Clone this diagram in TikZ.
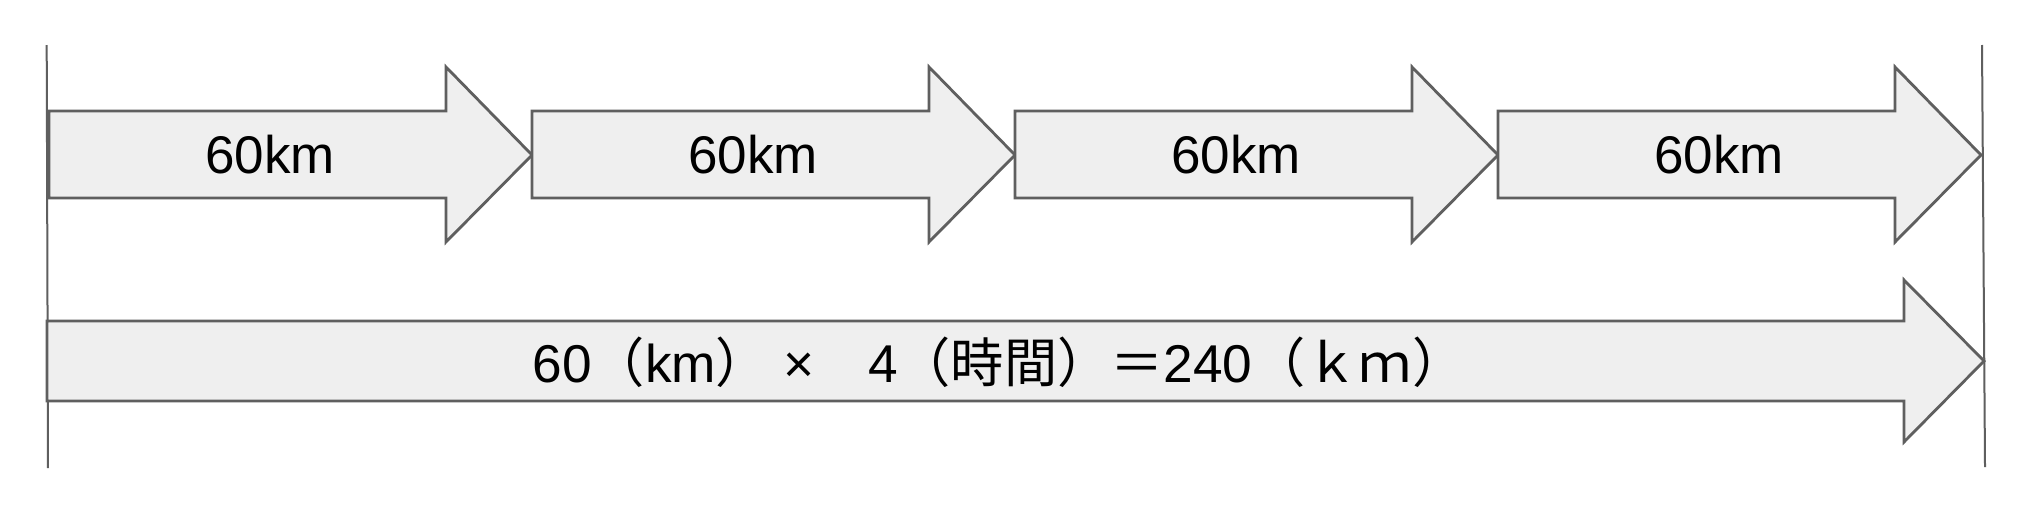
\documentclass[tikz,border=0pt]{standalone}
\usepackage{fontspec}
\setmainfont{Liberation Sans}
\newfontfamily\cjk{Noto Sans CJK JP}
\definecolor{edge}{HTML}{5F5F5F}
\definecolor{boxfill}{HTML}{EFEFEF}
\begin{document}
\begin{tikzpicture}[x=0.5pt,y=-0.5pt,
  arr/.style={draw=edge,line width=1.4pt,fill=boxfill,line join=miter},
  guide/.style={draw=edge,line width=1pt},
  lbl/.style={anchor=base,inner sep=0pt,font=\fontsize{26.5}{30}\selectfont}]
\useasboundingbox (0,0) rectangle (2034,509);
\fill[white] (0,0) rectangle (2034,509);
\coordinate (lt) at (46.7,45);
\coordinate (lb) at (48,468);
\coordinate (rt) at (1982,45);
\coordinate (rb) at (1985,467);
\draw[guide] (lt) -- (lb);
\draw[guide] (rt) -- (rb);
\foreach \k in {0,...,3}{
  \pgfmathsetmacro\L{49+483*\k}
  \pgfmathsetmacro\B{446+483*\k}
  \pgfmathsetmacro\T{532+483*\k}
  \pgfmathsetmacro\C{270+483*\k}
  \draw[arr] (\L,111) -- (\B,111) -- (\B,67) -- (\T,155) -- (\B,242) -- (\B,198) -- (\L,198) -- cycle;
  \node[lbl] (t\k) at (\C,173) {60km};
}
\draw[arr] (47,321) -- (1904,321) -- (1904,280) -- (1984,361) -- (1904,442) -- (1904,401) -- (47,401) -- cycle;
\node[lbl,font=\fontsize{26.6}{30}\selectfont] (total) at (999,382) {60{\cjk （}km{\cjk ）} ×{\cjk 　}4{\cjk （時間）＝}240{\cjk （ｋｍ）}};
\end{tikzpicture}
\end{document}
